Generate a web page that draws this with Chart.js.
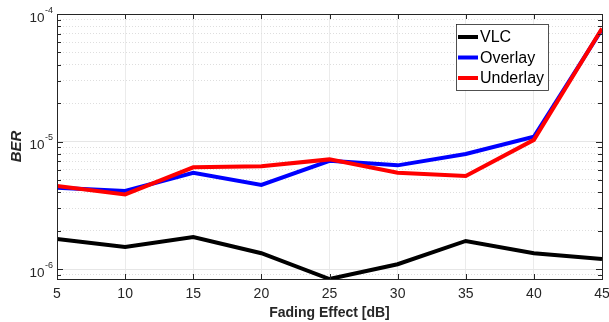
<!DOCTYPE html>
<html>
<head>
<meta charset="utf-8">
<script src="https://cdn.jsdelivr.net/npm/chart.js@4.4.1/dist/chart.umd.min.js"></script>
<style>
  html, body { margin: 0; padding: 0; background: #fff; }
</style>
</head>
<body>
<canvas id="berChart" width="609" height="322"></canvas>
<script>
// values
const fadingDb = [5, 10, 15, 20, 25, 30, 35, 40, 45];
const berVLC = [1.72e-6, 1.49e-6, 1.78e-6, 1.33e-6, 8.35e-7, 1.09e-6, 1.66e-6, 1.33e-6, 1.2e-6];
const berOverlay = [4.34e-6, 4.09e-6, 5.69e-6, 4.56e-6, 7.06e-6, 6.5e-6, 7.98e-6, 1.09e-5, 7.6e-5];
const berUnderlay = [4.48e-6, 3.85e-6, 6.28e-6, 6.39e-6, 7.24e-6, 5.69e-6, 5.36e-6, 1.03e-5, 7.7e-5];
const xTicks = [5, 10, 15, 20, 25, 30, 35, 40, 45];
const yDecades = [1e-6, 1e-5, 1e-4];
const yDecadeLabels = ["-6", "-5", "-4"];

const AXIS_COLOR = "#262626";
const FONT = "'Liberation Sans', Arial, sans-serif";

function isDecade(v) {
  const l = Math.log10(v);
  return Math.abs(l - Math.round(l)) < 1e-9;
}

function toPoints(ys) {
  return fadingDb.map((x, i) => ({ x: x, y: ys[i] }));
}

const yMin = Math.min(...berVLC, ...berOverlay, ...berUnderlay);
const yMax = 1e-4;

// box, inward ticks, y labels with exponents, legend
const matlabAxes = {
  id: "matlabAxes",
  afterDraw(chart) {
    const ctx = chart.ctx;
    const a = chart.chartArea;
    const xs = chart.scales.x;
    const ys = chart.scales.y;
    ctx.save();
    ctx.strokeStyle = AXIS_COLOR;
    ctx.lineWidth = 1;
    ctx.beginPath();
    xs.ticks.forEach((t) => {
      const px = Math.round(xs.getPixelForValue(t.value)) + 0.5;
      ctx.moveTo(px, a.bottom); ctx.lineTo(px, a.bottom - 5);
      ctx.moveTo(px, a.top); ctx.lineTo(px, a.top + 5);
    });
    ys.ticks.forEach((t) => {
      const py = Math.round(ys.getPixelForValue(t.value)) + 0.5;
      const len = isDecade(t.value) ? 6 : 4;
      ctx.moveTo(a.left, py); ctx.lineTo(a.left + len, py);
      ctx.moveTo(a.right, py); ctx.lineTo(a.right - len, py);
    });
    ctx.stroke();
    ctx.strokeRect(Math.round(a.left) + 0.5, Math.round(a.top) + 0.5,
      Math.round(a.right - a.left), Math.round(a.bottom - a.top));

    // y tick labels: 10 with superscript exponent
    ctx.fillStyle = AXIS_COLOR;
    ctx.textBaseline = "alphabetic";
    yDecades.forEach((v, i) => {
      const py = ys.getPixelForValue(v);
      ctx.font = "9px " + FONT;
      const supW = ctx.measureText(yDecadeLabels[i]).width;
      const right = a.left - 4;
      ctx.textAlign = "left";
      ctx.fillText(yDecadeLabels[i], right - supW, py - 1.5);
      ctx.textAlign = "right";
      ctx.font = "13.5px " + FONT;
      ctx.fillText("10", right - supW - 0.5, py + 7.5);
    });

    // legend box
    const lx = 456, ly = 24, lw = 92, lh = 66;
    ctx.fillStyle = "#fff";
    ctx.fillRect(lx, ly, lw, lh);
    ctx.strokeStyle = "#262626";
    ctx.lineWidth = 0.8;
    ctx.strokeRect(lx + 0.5, ly + 0.5, lw, lh);
    ctx.font = "16px " + FONT;
    ctx.textAlign = "left";
    ctx.textBaseline = "middle";
    chart.data.datasets.forEach((ds, i) => {
      const ry = ly + 13 + i * 20.5;
      ctx.strokeStyle = ds.borderColor;
      ctx.lineWidth = 4;
      ctx.beginPath();
      ctx.moveTo(lx + 2, ry); ctx.lineTo(lx + 22, ry);
      ctx.stroke();
      ctx.fillStyle = "#000";
      ctx.fillText(ds.label, lx + 24, ry + 1);
    });
    ctx.restore();
  }
};

new Chart(document.getElementById("berChart"), {
  type: "line",
  data: {
    datasets: [
      { label: "VLC", data: toPoints(berVLC), borderColor: "#000000", order: 3 },
      { label: "Overlay", data: toPoints(berOverlay), borderColor: "#0000ff", order: 2 },
      { label: "Underlay", data: toPoints(berUnderlay), borderColor: "#ff0000", order: 1 }
    ]
  },
  options: {
    responsive: false,
    animation: false,
    devicePixelRatio: 1,
    layout: { padding: { top: 14, right: 7, left: 0, bottom: 0 } },
    elements: {
      line: { borderWidth: 4, tension: 0, fill: false },
      point: { radius: 0, hoverRadius: 0 }
    },
    plugins: { legend: { display: false }, tooltip: { enabled: false } },
    scales: {
      x: {
        type: "linear",
        min: 5,
        max: 45,
        afterBuildTicks: (scale) => { scale.ticks = xTicks.map((v) => ({ value: v })); },
        afterFit: (scale) => {
          scale.height = 43;
          scale.paddingLeft = 0;
          scale.paddingRight = 0;
        },
        grid: { color: "#ebebeb", drawTicks: false },
        border: { display: false },
        ticks: {
          color: AXIS_COLOR,
          font: { family: FONT, size: 14 },
          padding: 7,
          autoSkip: false,
          maxRotation: 0
        },
        title: {
          display: true,
          text: "Fading Effect [dB]",
          color: AXIS_COLOR,
          font: { family: FONT, size: 14, weight: "bold" },
          padding: { top: 0, bottom: 0 }
        }
      },
      y: {
        type: "logarithmic",
        min: yMin,
        max: yMax,
        afterBuildTicks: (scale) => {
          const ticks = [];
          for (let e = -7; e <= -4; e++) {
            for (let m = 1; m <= 9; m++) {
              const v = m * Math.pow(10, e);
              if (v >= yMin * 0.999 && v <= yMax * 1.001) ticks.push({ value: v });
            }
          }
          scale.ticks = ticks;
        },
        afterFit: (scale) => {
          scale.width = 57;
          scale.paddingTop = 0;
          scale.paddingBottom = 0;
        },
        grid: {
          drawTicks: false,
          color: (c) => (c.tick && isDecade(c.tick.value) ? "#e6e6e6" : "#dedede")
        },
        border: {
          display: false,
          dash: (c) => (c.tick && !isDecade(c.tick.value) ? [1, 2] : [])
        },
        ticks: { display: false },
        title: {
          display: true,
          text: "BER",
          color: AXIS_COLOR,
          font: { family: FONT, size: 15, weight: "bold", style: "italic" },
          padding: { top: 8, bottom: 0 }
        }
      }
    }
  },
  plugins: [matlabAxes]
});
</script>
</body>
</html>
